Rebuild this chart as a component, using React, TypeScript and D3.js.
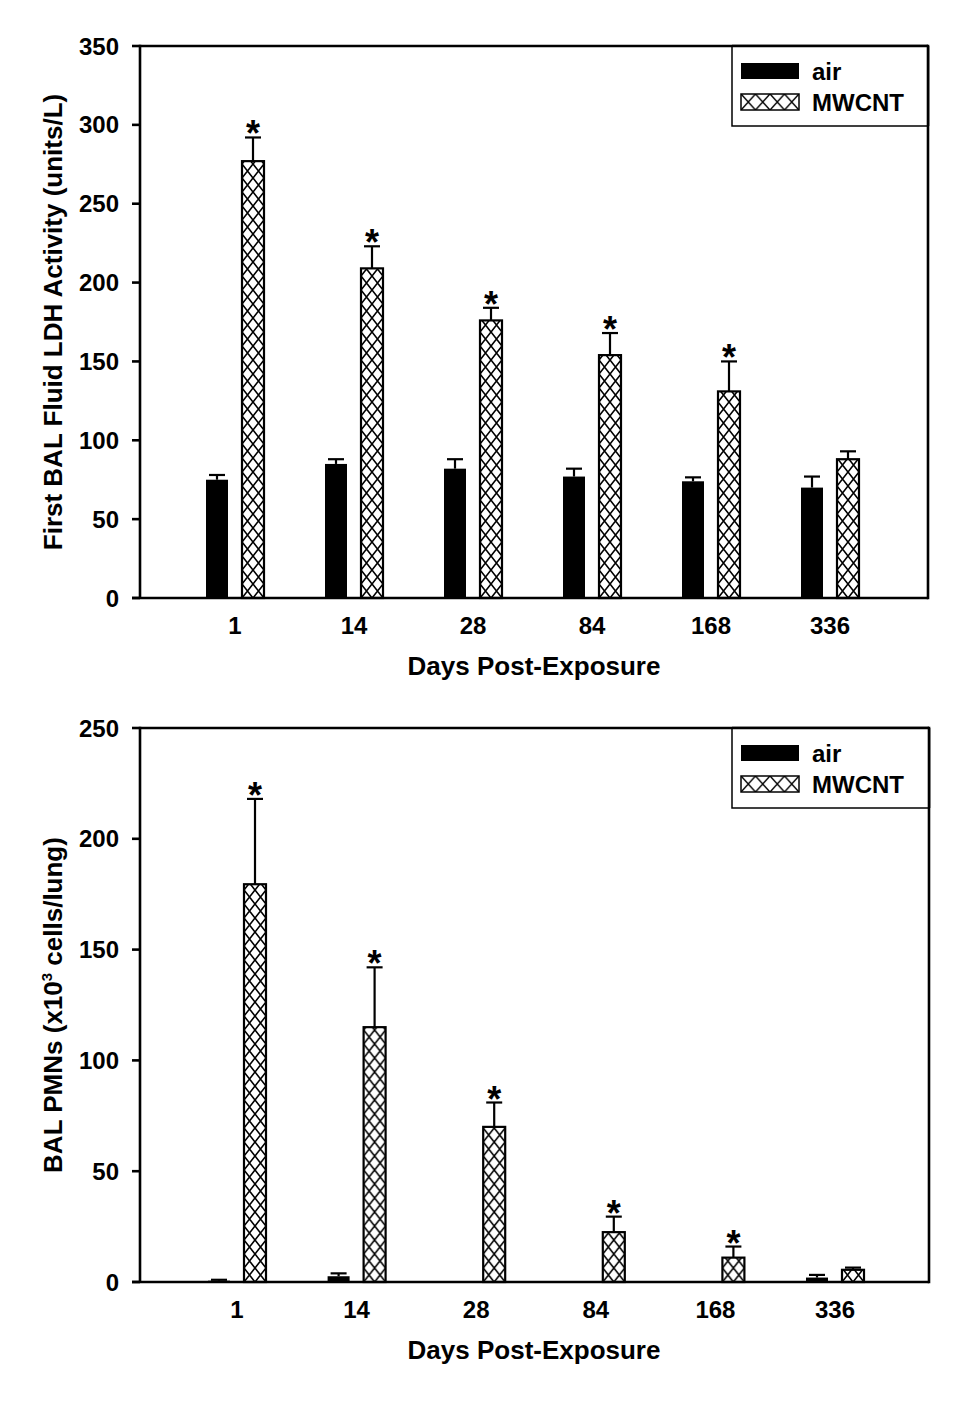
import React from "react";
import * as d3 from "d3";

const days = ["1", "14", "28", "84", "168", "336"];
const seriesNames = ["air", "MWCNT"];

const ldhAir = [75, 85, 82, 77, 74, 70];
const ldhAirErr = [3, 3, 6, 5, 2.5, 7];
const ldhMw = [277, 209, 176, 154, 131, 88];
const ldhMwErr = [15, 14, 8, 14, 19, 5];
const ldhSig = [true, true, true, true, true, false];
const ldhTicks = [0, 50, 100, 150, 200, 250, 300, 350];

const pmnAir = [0.6, 2.6, 0, 0, 0, 2];
const pmnAirErr = [0.4, 1.3, 0, 0, 0, 1.2];
const pmnMw = [179.5, 115, 70, 22.5, 11, 5.5];
const pmnMwErr = [38.5, 27, 11, 7, 5, 1];
const pmnSig = [true, true, true, true, true, false];
const pmnTicks = [0, 50, 100, 150, 200, 250];

const FONT = "'Liberation Sans', Arial, Helvetica, sans-serif";

type PanelProps = {
  id: string;
  left: number;
  right: number;
  top: number;
  bottom: number;
  xFirst: number;
  xLast: number;
  yMax: number;
  ticks: number[];
  air: number[];
  airErr: number[];
  mw: number[];
  mwErr: number[];
  sig: boolean[];
  yTitle: React.ReactNode;
  legendTop: number;
};

function Panel(p: PanelProps) {
  const x = d3.scalePoint<string>().domain(days).range([p.xFirst, p.xLast]);
  const y = d3.scaleLinear().domain([0, p.yMax]).range([p.bottom, p.top]);
  const barW = 22;
  const off = 18;
  const lw = 2.6;
  const legL = 732;
  const legT = p.legendTop;

  return (
    <g>
      <defs>
        {days.map((d, i) => (
          <pattern
            key={d}
            id={`${p.id}-h${i}`}
            patternUnits="userSpaceOnUse"
            x={(x(d) as number) + off - barW / 2}
            y={p.bottom}
            width={11}
            height={14}
          >
            <rect width={11} height={14} fill="#fff" />
            <path d="M-1,-1.27L12,15.27M12,-1.27L-1,15.27" stroke="#000" strokeWidth={1.6} />
          </pattern>
        ))}
        <pattern
          id={`${p.id}-leg`}
          patternUnits="userSpaceOnUse"
          x={legL + 9}
          y={legT + 48}
          width={14.5}
          height={16}
        >
          <rect width={14.5} height={16} fill="#fff" />
          <path d="M-1,-1.1L15.5,17.1M15.5,-1.1L-1,17.1" stroke="#000" strokeWidth={1.5} />
        </pattern>
      </defs>

      {/* bars */}
      {days.map((d, i) => {
        const cx = x(d) as number;
        const ax = cx - off;
        const mx = cx + off;
        const aTop = y(p.air[i]);
        const mTop = y(p.mw[i]);
        const aErrY = y(p.air[i] + p.airErr[i]);
        const mErrY = y(p.mw[i] + p.mwErr[i]);
        return (
          <g key={d}>
            {p.air[i] > 0 && (
              <rect x={ax - barW / 2} y={aTop} width={barW} height={p.bottom - aTop} fill="#000" />
            )}
            {p.air[i] > 0 && p.airErr[i] > 0 && (
              <g stroke="#000" strokeWidth={2.2}>
                <line x1={ax} x2={ax} y1={aTop} y2={aErrY} />
                <line x1={ax - 8} x2={ax + 8} y1={aErrY} y2={aErrY} />
              </g>
            )}
            {p.mwErr[i] > 0 && (
              <g stroke="#000" strokeWidth={2.2}>
                <line x1={mx} x2={mx} y1={mTop} y2={mErrY} />
                <line x1={mx - 8} x2={mx + 8} y1={mErrY} y2={mErrY} />
              </g>
            )}
            <rect
              x={mx - barW / 2}
              y={mTop}
              width={barW}
              height={p.bottom - mTop}
              fill={`url(#${p.id}-h${i})`}
              stroke="#000"
              strokeWidth={2.2}
            />
            {p.sig[i] && (
              <text
                x={mx}
                y={mErrY + 9}
                textAnchor="middle"
                fontFamily={FONT}
                fontWeight="bold"
                fontSize={36}
              >
                *
              </text>
            )}
          </g>
        );
      })}

      {/* frame */}
      <g stroke="#000" strokeWidth={lw} fill="none">
        <line x1={p.left} x2={p.right} y1={p.top} y2={p.top} />
        <line x1={p.right} x2={p.right} y1={p.top - lw / 2} y2={p.bottom + lw / 2} />
        <line x1={p.left} x2={p.left} y1={p.top - lw / 2} y2={p.bottom} />
        <line x1={p.left - 8} x2={p.right} y1={p.bottom} y2={p.bottom} />
      </g>

      {/* y ticks */}
      {p.ticks.map((t) => (
        <g key={t}>
          <line x1={p.left - 8} x2={p.left} y1={y(t)} y2={y(t)} stroke="#000" strokeWidth={lw} />
          <text
            x={p.left - 21}
            y={y(t)}
            dy="0.36em"
            textAnchor="end"
            fontFamily={FONT}
            fontWeight="bold"
            fontSize={24}
          >
            {t}
          </text>
        </g>
      ))}

      {/* x labels */}
      {days.map((d) => (
        <text
          key={d}
          x={x(d) as number}
          y={p.bottom + 36}
          textAnchor="middle"
          fontFamily={FONT}
          fontWeight="bold"
          fontSize={24}
        >
          {d}
        </text>
      ))}
      <text
        x={534}
        y={p.bottom + 77}
        textAnchor="middle"
        fontFamily={FONT}
        fontWeight="bold"
        fontSize={26}
      >
        Days Post-Exposure
      </text>

      {/* y title */}
      <text
        transform={`translate(62,${(p.top + p.bottom) / 2}) rotate(-90)`}
        textAnchor="middle"
        fontFamily={FONT}
        fontWeight="bold"
        fontSize={26}
      >
        {p.yTitle}
      </text>

      {/* legend */}
      <rect x={legL} y={legT} width={p.right - legL} height={80} fill="#fff" stroke="#000" strokeWidth={1.5} />
      <line x1={legL} x2={p.right} y1={legT} y2={legT} stroke="#000" strokeWidth={lw} />
      <line x1={p.right} x2={p.right} y1={legT} y2={legT + 80} stroke="#000" strokeWidth={lw} />
      <rect x={legL + 9} y={legT + 17} width={58} height={16} fill="#000" />
      <rect x={legL + 9} y={legT + 48} width={58} height={16} fill={`url(#${p.id}-leg)`} stroke="#000" strokeWidth={1.5} />
      <text x={legL + 80} y={legT + 34} fontFamily={FONT} fontWeight="bold" fontSize={24}>
        {seriesNames[0]}
      </text>
      <text x={legL + 80} y={legT + 65} fontFamily={FONT} fontWeight="bold" fontSize={24}>
        {seriesNames[1]}
      </text>
    </g>
  );
}

export default function App() {
  return (
    <svg
      width={975}
      height={1414}
      viewBox="0 0 975 1414"
      style={{ position: "absolute", left: 0, top: 0, background: "#fff" }}
    >
      <rect width={975} height={1414} fill="#fff" />
      <Panel
        id="ldh"
        left={140}
        right={928}
        top={46}
        bottom={598}
        xFirst={235}
        xLast={830}
        yMax={350}
        ticks={ldhTicks}
        air={ldhAir}
        airErr={ldhAirErr}
        mw={ldhMw}
        mwErr={ldhMwErr}
        sig={ldhSig}
        yTitle="First BAL Fluid LDH Activity (units/L)"
        legendTop={46}
      />
      <Panel
        id="pmn"
        left={140}
        right={929}
        top={728}
        bottom={1282}
        xFirst={237}
        xLast={835}
        yMax={250}
        ticks={pmnTicks}
        air={pmnAir}
        airErr={pmnAirErr}
        mw={pmnMw}
        mwErr={pmnMwErr}
        sig={pmnSig}
        yTitle={
          <>
            BAL PMNs (x10
            <tspan dy={-10} fontSize={15}>3</tspan>
            <tspan dy={10}> cells/lung)</tspan>
          </>
        }
        legendTop={728}
      />
    </svg>
  );
}
